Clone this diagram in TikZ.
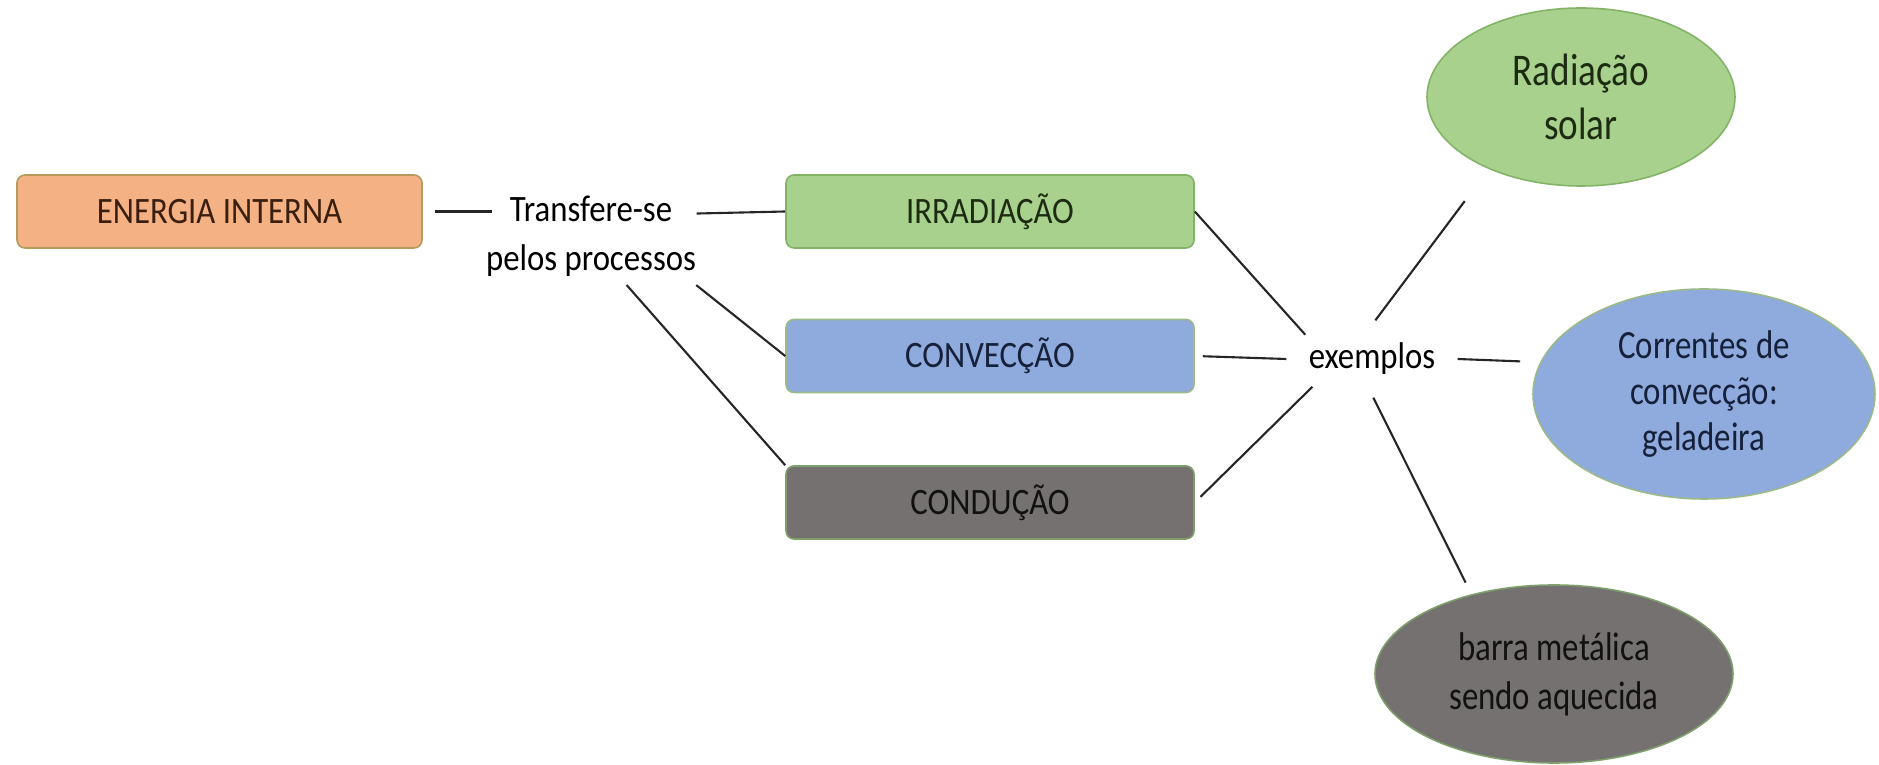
\documentclass[tikz,border=0pt]{standalone}
\usepackage{fontspec}
\setmainfont[FakeStretch=0.88]{Carlito}
\newfontfamily\ovalfont[FakeStretch=0.82]{Carlito}
\usetikzlibrary{shapes.geometric,calc}
\definecolor{orfill}{HTML}{F4B183}
\definecolor{orline}{HTML}{B59A5A}
\definecolor{ortext}{HTML}{3A1E0E}
\definecolor{grfill}{HTML}{A9D18E}
\definecolor{grline}{HTML}{82B366}
\definecolor{grtext}{HTML}{1D2B12}
\definecolor{blfill}{HTML}{8FAADC}
\definecolor{blline}{HTML}{9CB98A}
\definecolor{bltext}{HTML}{15203A}
\definecolor{gyfill}{HTML}{767171}
\definecolor{gyline}{HTML}{7D9F6B}
\definecolor{gytext}{HTML}{111111}
\begin{document}
\begin{tikzpicture}[x=0.1mm,y=-0.1mm,
  box/.style={rectangle, rounded corners=0.8mm, minimum width=40.8mm, minimum height=7.3mm,
    line width=0.45pt, inner sep=0, font=\fontsize{10.6}{12.7}\selectfont},
  oval/.style={ellipse, inner sep=0, line width=0.45pt, align=center},
  lbl/.style={align=center, inner xsep=0, inner ysep=0.8mm,
    font=\fontsize{10.6}{14}\selectfont},
  conn/.style={line width=0.6pt, black!85}]
\useasboundingbox (0,0) rectangle (1879,765);
\fill[white] (0,0) rectangle (1879,765);

\node[box, minimum width=40.5mm, fill=orfill, draw=orline, text=ortext] (en) at (219.5,211.5) {ENERGIA INTERNA};
\node[box, fill=grfill, draw=grline, text=grtext] (irr) at (990,211.5) {IRRADIAÇÃO};
\node[box, fill=blfill, draw=blline, text=bltext] (conv) at (990,356) {CONVECÇÃO};
\node[box, fill=gyfill, draw=gyline, text=gytext] (cond) at (990,502.5) {CONDUÇÃO};

\node[lbl] (tr) at (591,236) {Transfere-se\\pelos processos};
\node[ellipse, inner sep=0, minimum width=17mm, minimum height=7.6mm,
  font=\fontsize{10.6}{12.7}\selectfont] (ex) at (1372,359) {\makebox[0pt]{exemplos}};

\node[oval, minimum width=30.8mm, minimum height=17.8mm, fill=grfill, draw=grline, text=grtext,
  font=\ovalfont\fontsize{12.9}{15.5}\selectfont] (rad) at (1581,97) {Radiação\\solar};
\node[oval, minimum width=34.2mm, minimum height=21mm, fill=blfill, draw=blline, text=bltext,
  font=\ovalfont\fontsize{11.4}{13.2}\selectfont] (cor) at (1704,394) {Correntes de\\convecção:\\geladeira};
\node[oval, minimum width=35.8mm, minimum height=17.8mm, fill=gyfill, draw=gyline, text=gytext,
  font=\ovalfont\fontsize{11.4}{14}\selectfont] (bar) at (1554,674) {barra metálica\\sendo aquecida};

\draw[conn, shorten <=1.2mm, shorten >=-0.7mm] (en.east) -- (en.east -| tr.west);
\draw[conn] (tr.12) -- (irr.west);
\draw[conn] (tr.-25) -- (conv.west);
\draw[conn] (tr.-54) -- (cond.north west);
\draw[conn] (irr.east) -- (ex.160);
\draw[conn, shorten <=0.8mm] (conv.east) -- (ex.180);
\draw[conn, shorten <=0.8mm] (cond.east) -- (ex.205);
\draw[conn, shorten >=4mm] (ex.85) -- (rad.218);
\draw[conn, shorten >=2mm] (ex.0) -- (cor.169);
\draw[conn, shorten >=1.3mm] (ex.272) -- (bar.136);
\end{tikzpicture}
\end{document}
